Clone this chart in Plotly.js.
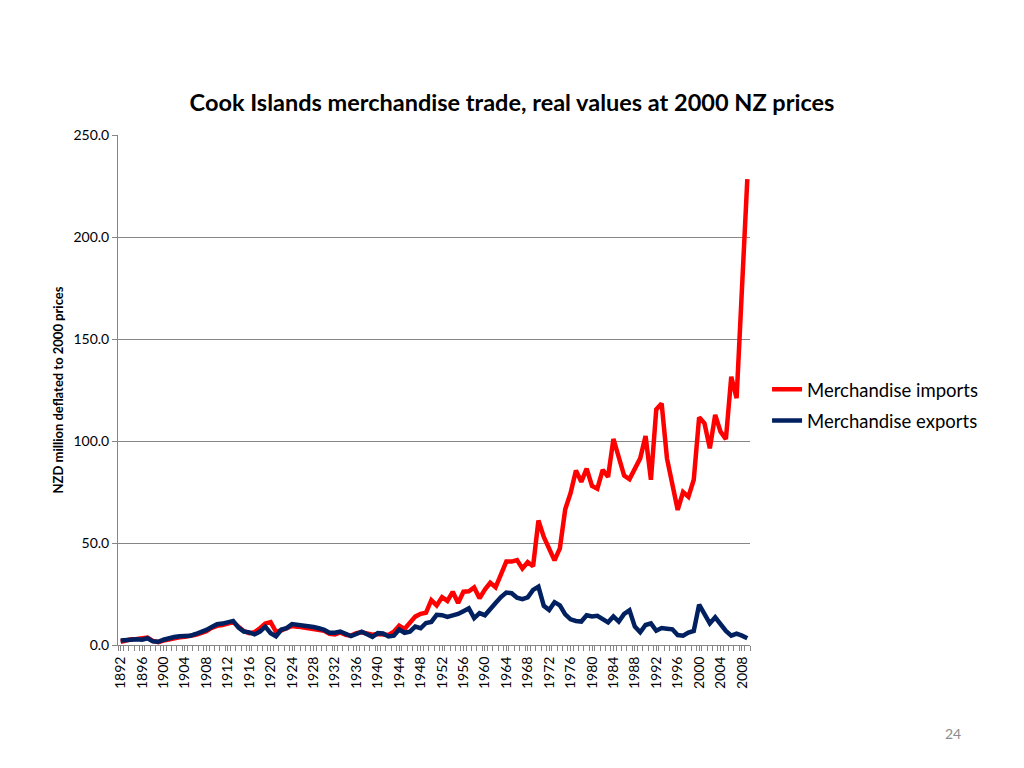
<!DOCTYPE html>
<html>
<head>
<meta charset="utf-8">
<script src="https://cdn.plot.ly/plotly-3.0.1.min.js"></script>
<style>html,body{margin:0;padding:0;background:#fff;}#chart{width:1024px;height:768px;}</style>
</head>
<body>
<div id="chart"></div>
<script>
var startYear = 1892;
var imports = [
1.6,2.3,2.8,3.0,3.3,3.6,2.0,1.4,2.2,2.8,
3.2,3.8,4.0,4.4,5.0,5.8,6.8,8.4,9.4,9.8,
10.6,11.2,9.0,6.8,5.8,6.3,8.2,10.5,11.2,6.5,
7.2,8.3,9.3,9.0,8.6,8.3,7.8,7.8,7.0,5.5,
5.2,6.2,5.0,4.6,5.8,6.2,5.6,5.0,5.4,5.4,
4.9,6.5,9.5,7.8,10.5,13.9,15.3,15.8,22.0,19.4,
23.4,21.6,26.1,20.6,26.1,26.3,28.2,22.9,27.2,30.5,
28.3,35.1,40.9,40.9,41.6,37.5,40.6,38.6,61.0,53.0,
47.0,41.5,47.4,66.5,74.5,85.5,80.0,86.5,78.0,76.6,
85.8,82.4,101.0,92.0,83.0,81.3,86.0,91.5,102.5,81.0,
115.5,118.4,91.5,78.4,66.2,75.0,72.7,81.0,111.6,108.7,
96.4,112.8,104.6,100.9,131.5,121.0,170.0,228.4
];
var exports = [
2.2,2.5,2.7,2.8,2.6,3.3,1.8,1.6,2.6,3.4,
3.9,4.3,4.3,4.5,5.4,6.3,7.4,8.8,10.2,10.5,
11.1,11.8,8.5,6.6,6.2,5.2,6.6,9.0,5.8,4.3,
7.6,8.3,10.3,10.0,9.3,9.2,8.8,8.2,7.4,6.0,
6.0,6.6,5.2,4.4,5.4,6.5,5.3,4.0,5.8,5.6,
4.2,4.6,7.6,6.0,6.5,9.0,8.2,10.8,11.3,14.8,
14.6,13.8,14.5,15.2,16.6,18.0,13.2,15.6,14.6,17.9,
20.6,23.5,25.7,25.4,23.2,22.5,23.4,27.0,28.6,19.2,
17.2,21.0,19.4,15.0,12.6,11.8,11.5,14.6,14.0,14.3,
12.4,11.1,14.0,11.5,15.2,17.0,9.0,6.2,9.8,10.6,
7.0,8.3,8.0,7.7,4.9,4.6,6.1,6.9,19.8,15.5,
10.6,13.6,9.8,6.9,4.6,5.6,4.6,3.3
];
var years = imports.map(function(_, i){ return startYear + i; });
var tickYears = years.filter(function(y){ return (y - startYear) % 4 === 0; });

var font = "Lato, 'Open Sans', sans-serif";
var traces = [
  {x: years, y: imports, type: 'scatter', mode: 'lines', name: 'Merchandise imports',
   legendgroup: 'imp', line: {color: '#FF0000', width: 4.5}},
  {x: years, y: exports, type: 'scatter', mode: 'lines', name: 'Merchandise exports',
   legendgroup: 'exp', line: {color: '#002060', width: 4.5}}
];
var layout = {
  width: 1024, height: 768,
  margin: {l: 118, r: 274, t: 135, b: 123},
  paper_bgcolor: '#fff', plot_bgcolor: '#fff',
  font: {family: font, color: '#000'},
  title: {text: '<b>Cook Islands merchandise trade, real values at 2000 NZ prices</b>',
          font: {family: font, size: 23.5, color: '#000'},
          x: 0.5, xref: 'container', xanchor: 'center',
          y: 1 - 103/768, yref: 'container', yanchor: 'middle'},
  xaxis: {
    range: [startYear - 0.5, years[years.length-1] + 0.5],
    tickmode: 'array', tickvals: tickYears, ticktext: tickYears.map(String),
    tickangle: -90, ticks: 'outside', ticklen: 5, tickcolor: '#868686',
    tickfont: {family: font, size: 14, color: '#000'},
    minor: {tickmode: 'linear', tick0: startYear - 0.5, dtick: 1, ticks: 'outside', ticklen: 5, tickcolor: '#868686', showgrid: false},
    showline: true, linecolor: '#868686', linewidth: 1,
    showgrid: false, zeroline: false, fixedrange: true
  },
  yaxis: {
    range: [0, 250], dtick: 50, tickformat: '.1f',
    ticks: 'outside', ticklen: 5, tickcolor: '#868686',
    tickfont: {family: font, size: 14, color: '#000'},
    showline: true, linecolor: '#868686', linewidth: 1,
    showgrid: true, gridcolor: '#868686', gridwidth: 1, zeroline: false,
    title: {text: '<b>NZD million deflated to 2000 prices</b>', standoff: 6,
            font: {family: font, size: 13, color: '#000'}}
  },
  legend: {x: 1.027, xanchor: 'left', y: 0.47, yanchor: 'middle',
           font: {family: font, size: 18.5, color: '#000'},
           bgcolor: 'rgba(0,0,0,0)', itemwidth: 30, tracegroupgap: 4},
  showlegend: true,
  annotations: [
    {text: '24', xref: 'paper', yref: 'paper', x: (953-118)/632, y: (645-733)/510,
     xanchor: 'center', yanchor: 'middle', showarrow: false,
     font: {family: font, size: 14, color: '#8c8c8c'}}
  ]
};
Plotly.newPlot('chart', traces, layout, {displayModeBar: false, staticPlot: true});
</script>
</body>
</html>
